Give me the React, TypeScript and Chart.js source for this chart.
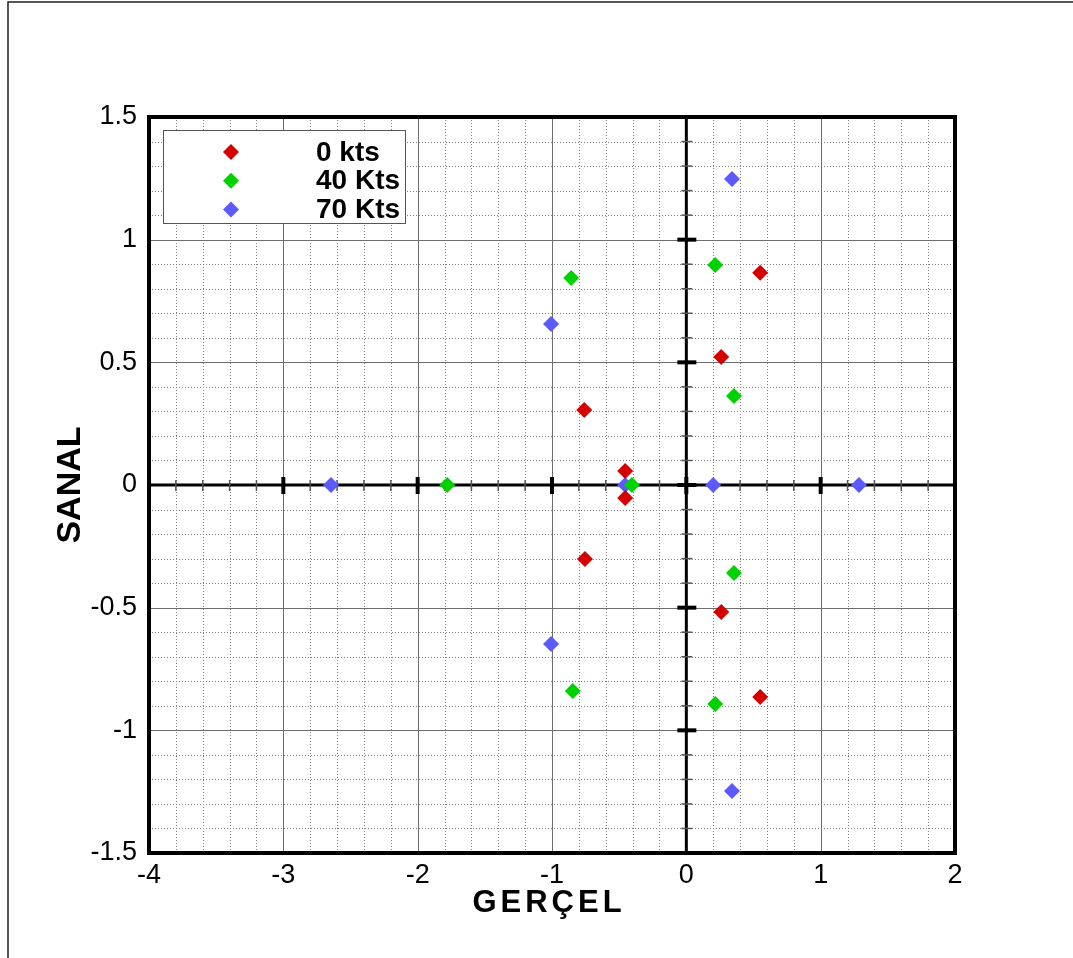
import React, { useEffect, useRef } from "react";
import { Chart, registerables } from "chart.js";

Chart.register(...registerables);

const seriesLabels = ["0 kts", "40 Kts", "70 Kts"];
const seriesColors = ["#d40000", "#00d200", "#5a5aff"];

const kts0Real = [0.55, 0.26, -0.76, -0.455, -0.455, -0.755, 0.26, 0.55];
const kts0Imag = [0.865, 0.522, 0.306, 0.057, -0.053, -0.302, -0.518, -0.864];
const kts40Real = [0.215, -0.857, 0.355, -1.78, -0.405, 0.355, -0.845, 0.215];
const kts40Imag = [0.897, 0.844, 0.363, 0, 0, -0.359, -0.84, -0.893];
const kts70Real = [0.34, -1.007, -2.645, -0.455, 0.2, 1.285, -1.007, 0.34];
const kts70Imag = [1.247, 0.656, 0, 0, 0, 0, -0.648, -1.247];

const xTickValues = [-4, -3, -2, -1, 0, 1, 2];
const xTickLabels = ["-4", "-3", "-2", "-1", "0", "1", "2"];
const yTickValues = [-1.5, -1, -0.5, 0, 0.5, 1, 1.5];
const yTickLabels = ["-1.5", "-1", "-0.5", "0", "0.5", "1", "1.5"];

const xTitle = "GERÇEL";
const yTitle = "SANAL";

const FONT = "'Liberation Sans', Arial, Helvetica, sans-serif";

const zip = (a: number[], b: number[]) => a.map((v, i) => ({ x: v, y: b[i] }));

const gridPlugin = {
  id: "customGrid",
  beforeDatasetsDraw(chart: any) {
    const { ctx, chartArea: a, scales } = chart;
    const x = scales.x;
    const y = scales.y;
    const xmin = x.min, xmax = x.max, ymin = y.min, ymax = y.max;
    const line = (x1: number, y1: number, x2: number, y2: number) => {
      ctx.beginPath();
      ctx.moveTo(x1, y1);
      ctx.lineTo(x2, y2);
      ctx.stroke();
    };
    ctx.save();
    // minor dotted grid
    ctx.strokeStyle = "#808080";
    ctx.lineWidth = 1;
    ctx.setLineDash([1, 2]);
    const nx = Math.round((xmax - xmin) / 0.2);
    for (let i = 1; i < nx; i++) {
      if (i % 5 === 0) continue;
      const px = Math.round(x.getPixelForValue(xmin + i * 0.2)) + 0.5;
      line(px, a.top, px, a.bottom);
    }
    const ny = Math.round((ymax - ymin) / 0.1);
    for (let i = 1; i < ny; i++) {
      if (i % 5 === 0) continue;
      const py = Math.round(y.getPixelForValue(ymin + i * 0.1)) + 0.5;
      line(a.left, py, a.right, py);
    }
    // major solid grid
    ctx.setLineDash([]);
    ctx.strokeStyle = "#6e6e6e";
    for (const v of xTickValues) {
      const px = Math.round(x.getPixelForValue(v)) + 0.5;
      line(px, a.top, px, a.bottom);
    }
    for (const v of yTickValues) {
      const py = Math.round(y.getPixelForValue(v)) + 0.5;
      line(a.left, py, a.right, py);
    }
    // zero axes
    const x0 = x.getPixelForValue(0);
    const y0 = y.getPixelForValue(0);
    ctx.strokeStyle = "#000";
    ctx.lineWidth = 3;
    line(a.left, y0, a.right, y0);
    line(x0, a.top, x0, a.bottom);
    // minor ticks on axes
    ctx.lineWidth = 1.5;
    ctx.strokeStyle = "#555";
    for (let i = 1; i < nx; i++) {
      if (i % 5 === 0) continue;
      const px = x.getPixelForValue(xmin + i * 0.2);
      line(px, y0 - 5, px, y0 + 6);
    }
    for (let i = 1; i < ny; i++) {
      if (i % 5 === 0) continue;
      const py = y.getPixelForValue(ymin + i * 0.1);
      line(x0 - 5, py, x0 + 6, py);
    }
    // major ticks on axes
    ctx.lineWidth = 4;
    ctx.strokeStyle = "#000";
    for (const v of xTickValues) {
      const px = x.getPixelForValue(v);
      line(px, y0 - 8, px, y0 + 9);
    }
    for (const v of yTickValues) {
      const py = y.getPixelForValue(v);
      line(x0 - 9, py, x0 + 10, py);
    }
    ctx.restore();
  },
  afterDatasetsDraw(chart: any) {
    const { ctx, chartArea: a } = chart;
    ctx.save();
    // plot border
    ctx.strokeStyle = "#000";
    ctx.lineWidth = 4;
    ctx.strokeRect(a.left, a.top, a.right - a.left, a.bottom - a.top);
    // legend box
    const bx = a.left + 14.5, by = a.top + 13.5, bw = 242, bh = 93;
    ctx.fillStyle = "#fff";
    ctx.fillRect(bx, by, bw, bh);
    ctx.strokeStyle = "#555";
    ctx.lineWidth = 1;
    ctx.strokeRect(bx, by, bw, bh);
    chart.data.datasets.forEach((ds: any, i: number) => {
      const cy = a.top + 35 + i * 28.7;
      const mx = a.left + 82;
      const r = 8;
      ctx.fillStyle = ds.backgroundColor;
      ctx.beginPath();
      ctx.moveTo(mx - r, cy);
      ctx.lineTo(mx, cy - r);
      ctx.lineTo(mx + r, cy);
      ctx.lineTo(mx, cy + r);
      ctx.closePath();
      ctx.fill();
      ctx.fillStyle = "#000";
      ctx.font = `bold 28px ${FONT}`;
      ctx.textBaseline = "middle";
      ctx.textAlign = "left";
      ctx.fillText(ds.label, a.left + 167, cy + 1);
    });
    // x axis title with letter spacing
    const spacing = 4;
    ctx.font = `bold 31px ${FONT}`;
    (ctx as any).letterSpacing = `${spacing}px`;
    ctx.textAlign = "center";
    ctx.textBaseline = "middle";
    ctx.fillStyle = "#000";
    ctx.fillText(xTitle, (a.left + a.right) / 2 - 5 + spacing / 2, 903);
    (ctx as any).letterSpacing = "0px";
    ctx.restore();
  },
  afterDraw(chart: any) {
    const { ctx, width, height } = chart;
    ctx.save();
    ctx.strokeStyle = "#222";
    ctx.lineWidth = 1.5;
    ctx.beginPath();
    ctx.moveTo(8, height);
    ctx.lineTo(8, 2);
    ctx.lineTo(width, 2);
    ctx.stroke();
    ctx.restore();
  },
};

export default function App() {
  const ref = useRef<HTMLCanvasElement | null>(null);
  useEffect(() => {
    if (!ref.current) return;
    Chart.defaults.font.family = FONT;
    const chart = new Chart(ref.current, {
      type: "scatter",
      data: {
        datasets: [
          { label: seriesLabels[0], data: zip(kts0Real, kts0Imag), backgroundColor: seriesColors[0] },
          { label: seriesLabels[1], data: zip(kts40Real, kts40Imag), backgroundColor: seriesColors[1] },
          { label: seriesLabels[2], data: zip(kts70Real, kts70Imag), backgroundColor: seriesColors[2] },
        ].map((d) => ({
          ...d,
          pointStyle: "rectRot",
          pointRadius: 8,
          pointHoverRadius: 8,
          borderWidth: 0,
          borderColor: d.backgroundColor,
        })),
      },
      options: {
        animation: false,
        responsive: false,
        maintainAspectRatio: false,
        devicePixelRatio: 1,
        layout: { padding: { top: 117, right: 118, bottom: 0, left: 0 } },
        plugins: { legend: { display: false }, tooltip: { enabled: false } },
        scales: {
          x: {
            type: "linear",
            min: -4,
            max: 2,
            grid: { display: false, drawTicks: false },
            border: { display: false },
            afterBuildTicks: (s: any) => {
              s.ticks = xTickValues.map((v) => ({ value: v }));
            },
            afterFit: (s: any) => {
              s.height = 105;
            },
            ticks: {
              color: "#000",
              font: { size: 27 },
              padding: 6,
              maxRotation: 0,
              autoSkip: false,
              callback: (_v: any, i: number) => xTickLabels[i],
            },
            title: { display: false },
          },
          y: {
            type: "linear",
            min: -1.5,
            max: 1.5,
            grid: { display: false, drawTicks: false },
            border: { display: false },
            afterBuildTicks: (s: any) => {
              s.ticks = yTickValues.map((v) => ({ value: v }));
            },
            afterFit: (s: any) => {
              s.width = 149;
            },
            ticks: {
              color: "#000",
              font: { size: 27 },
              padding: 12,
              autoSkip: false,
              callback: (_v: any, i: number) => yTickLabels[i],
            },
            title: {
              display: true,
              text: yTitle,
              color: "#000",
              font: { size: 34, weight: "bold" },
              padding: { top: 50, bottom: 0 },
            },
          },
        },
      },
      plugins: [gridPlugin],
    } as any);
    return () => chart.destroy();
  }, []);
  return (
    <div style={{ position: "fixed", left: 0, top: 0, width: 1073, height: 958, background: "#fff" }}>
      <canvas ref={ref} width={1073} height={958} style={{ display: "block", width: 1073, height: 958 }} />
    </div>
  );
}
